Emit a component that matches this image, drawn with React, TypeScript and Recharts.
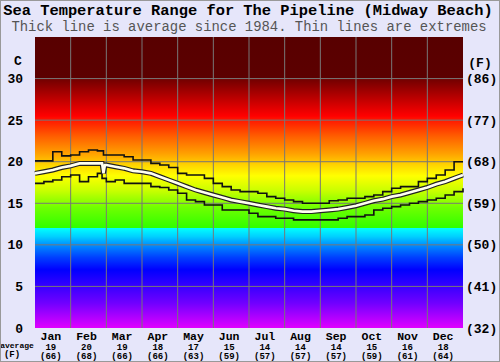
import { LineChart, Line, XAxis, YAxis, ReferenceArea, ReferenceLine } from 'recharts'

const months = ['Jan', 'Feb', 'Mar', 'Apr', 'May', 'Jun', 'Jul', 'Aug', 'Sep', 'Oct', 'Nov', 'Dec']
const monthAvgC = [19, 20, 19, 18, 17, 15, 14, 14, 14, 15, 16, 18]
const monthAvgF = [66, 68, 66, 66, 63, 59, 57, 57, 57, 59, 61, 64]
const monthCenters = [0.5, 1.5, 2.5, 3.5, 4.5, 5.5, 6.5, 7.5, 8.5, 9.5, 10.5, 11.5]
const monthBounds = [1, 2, 3, 4, 5, 6, 7, 8, 9, 10, 11]
const celsiusTicks = [0, 5, 10, 15, 20, 25, 30]
const fahrenheitTicks = [32, 41, 50, 59, 68, 77, 86]

// position in months from 1 Jan
const yearPos = [
  0, 0.25, 0.5, 0.75, 1, 1.25, 1.5, 1.75, 1.88, 1.92, 1.96,
  2, 2.25, 2.5, 2.75, 3, 3.25, 3.5, 3.75, 4, 4.25, 4.5, 4.75, 5, 5.25, 5.5, 5.75, 6,
  6.25, 6.5, 6.75, 7, 7.25, 7.5, 7.75, 8, 8.25, 8.5, 8.75, 9, 9.25, 9.5, 9.75, 10,
  10.25, 10.5, 10.75, 11, 11.25, 11.5, 11.75, 12,
]
const maxTemp = [
  20.1, 20.1, 21.2, 20.7, 20.8, 21.2, 21.4, 21.3, 21.3, 20.8, 20.8,
  20.8, 20.8, 20.6, 20.2, 20.2, 19.8, 19.6, 19.3, 18.6, 18.4, 18.4, 18.0, 17.4, 17.0, 16.6, 16.4, 16.4,
  16.2, 15.8, 15.6, 15.4, 15.2, 15.0, 15.0, 15.0, 15.3, 15.4, 15.6, 15.6, 15.8, 16.0, 16.4, 16.8,
  17.0, 17.0, 17.6, 18.0, 18.4, 19.0, 20.0, 20.0,
]
const avgTemp = [
  18.6, 18.8, 19.0, 19.3, 19.5, 19.8, 19.8, 19.8, 19.8, 18.6, 19.6,
  19.6, 19.4, 19.2, 18.9, 18.8, 18.6, 18.2, 17.8, 17.4, 17.0, 16.6, 16.3, 16.0, 15.7, 15.4, 15.2, 15.0,
  14.8, 14.6, 14.4, 14.3, 14.1, 14.0, 14.0, 14.1, 14.2, 14.3, 14.5, 14.7, 15.0, 15.3, 15.5, 15.8,
  16.0, 16.3, 16.6, 16.9, 17.3, 17.6, 18.0, 18.4,
]
const minTemp = [
  17.4, 17.6, 17.8, 18.2, 18.4, 17.6, 18.2, 18.6, 18.0, 18.0, 18.0,
  17.6, 17.8, 17.4, 17.4, 17.4, 17.0, 16.9, 16.6, 16.2, 15.4, 15.2, 14.8, 14.8, 14.2, 14.2, 14.2, 13.8,
  13.4, 13.4, 13.2, 13.2, 13.0, 13.0, 13.0, 13.0, 13.0, 13.2, 13.4, 13.4, 13.6, 14.2, 14.4, 14.6,
  14.8, 15.0, 15.2, 15.4, 15.6, 16.0, 16.4, 16.8,
]

// colour scale of the background, by temperature (C)
const bandTemps = [35, 30.05, 30, 27, 25.5, 25, 23, 21, 19.5, 18.3, 16.5, 14.5, 12.05, 12, 11, 10, 8.5, 7, 5, 3, 0]
const bandColors = [
  '#580000', '#5c0000', '#700000', '#d00000', '#ff0000', '#ff1800', '#ff6000', '#ffa000', '#ffd800',
  '#ffff00', '#c8ff00', '#70ff00', '#30ff00', '#00ffff', '#00d0ff', '#0090ff', '#0040ff', '#0000ff',
  '#3800ff', '#7000ff', '#e000ff',
]

const data = yearPos.map((m, i) => ({
  m,
  max: maxTemp[i],
  avg: avgTemp[i],
  min: minTemp[i],
  avgF: avgTemp[i] * 9 / 5 + 32,
}))

const FONT = '"Liberation Mono", "Courier New", monospace'
const TOP_C = 35
const TOP_F = TOP_C * 9 / 5 + 32

function MonthTick({ x, y, payload }: any) {
  const i = Math.floor(payload.value)
  return (
    <g transform={`translate(${x - 2},${y})`} fontFamily={FONT} fontWeight="bold" fill="#000">
      <text y={10} textAnchor="middle" fontSize={11.5}>{months[i]}</text>
      <text y={19.5} textAnchor="middle" fontSize={9}>{monthAvgC[i]}</text>
      <text y={29} textAnchor="middle" fontSize={9}>({monthAvgF[i]})</text>
    </g>
  )
}

function CTick({ x, y, payload }: any) {
  return (
    <text x={x} y={y} dy={4.5} textAnchor="end" fontFamily={FONT} fontWeight="bold" fontSize={13} fill="#000">
      {payload.value}
    </text>
  )
}

function FTick({ x, y, payload }: any) {
  return (
    <text x={x} y={y} dy={4.5} textAnchor="start" fontFamily={FONT} fontWeight="bold" fontSize={13} fill="#000">
      ({payload.value})
    </text>
  )
}

export default function App() {
  return (
    <div
      style={{
        position: 'absolute', left: 0, top: 0, width: 500, height: 362,
        background: '#e6e6fa', boxSizing: 'border-box', border: '1px solid #999', overflow: 'hidden',
      }}
    >
      <div style={{ position: 'absolute', left: -1, top: -1 }}>
        <LineChart width={500} height={362} data={data} margin={{ top: 37, right: 0, bottom: 0, left: 0 }}>
          <defs>
            <linearGradient id="tempBands" x1="0" y1="0" x2="0" y2="1">
              {bandTemps.map((t, i) => (
                <stop key={i} offset={(TOP_C - t) / TOP_C} stopColor={bandColors[i]} />
              ))}
            </linearGradient>
          </defs>
          <XAxis
            dataKey="m"
            type="number"
            domain={[0, 12]}
            ticks={monthCenters}
            height={34}
            axisLine={false}
            tickLine={false}
            tickSize={0}
            tick={<MonthTick />}
            interval={0}
          />
          <YAxis
            yAxisId="c"
            domain={[0, TOP_C]}
            ticks={celsiusTicks}
            width={35}
            axisLine={false}
            tickLine={false}
            tickSize={0}
            tickMargin={12}
            tick={<CTick />}
            interval={0}
          />
          <YAxis
            yAxisId="f"
            orientation="right"
            type="number"
            domain={[32, TOP_F]}
            allowDataOverflow
            ticks={fahrenheitTicks}
            width={37}
            axisLine={false}
            tickLine={false}
            tickSize={0}
            tickMargin={3}
            tick={<FTick />}
            interval={0}
          />
          <ReferenceArea yAxisId="c" x1={0} x2={12} y1={0} y2={TOP_C} fill="url(#tempBands)" fillOpacity={1} stroke="none" />
          {monthBounds.map(b => (
            <ReferenceLine key={`v${b}`} yAxisId="c" x={b} stroke="#777" strokeWidth={1} />
          ))}
          {celsiusTicks.slice(1).map(t => (
            <ReferenceLine key={`h${t}`} yAxisId="c" y={t} stroke="#777" strokeWidth={1} />
          ))}
          <Line yAxisId="f" type="linear" dataKey="avgF" stroke="none" dot={false} activeDot={false} isAnimationActive={false} />
          <Line yAxisId="c" type="stepAfter" dataKey="max" stroke="#111" strokeWidth={1.6} dot={false} isAnimationActive={false} />
          <Line yAxisId="c" type="stepAfter" dataKey="min" stroke="#111" strokeWidth={1.6} dot={false} isAnimationActive={false} />
          <Line yAxisId="c" type="linear" dataKey="avg" stroke="#222" strokeWidth={5} dot={false} isAnimationActive={false} />
          <Line yAxisId="c" type="linear" dataKey="avg" stroke="#fffff0" strokeWidth={2.6} dot={false} isAnimationActive={false} />
        </LineChart>
        <svg width={500} height={362} style={{ position: 'absolute', left: 0, top: 0, pointerEvents: 'none' }}>
          <g fontFamily={FONT}>
            <text x={248} y={14.5} textAnchor="middle" fontSize={15.4} fontWeight="bold" fill="#000">
              Sea Temperature Range for The Pipeline (Midway Beach)
            </text>
            <text x={249} y={30.5} textAnchor="middle" fontSize={13.9} fill="#555">
              Thick line is average since 1984. Thin lines are extremes
            </text>
            <text x={18} y={65} textAnchor="middle" fontSize={13} fontWeight="bold" fill="#000">C</text>
            <text x={480} y={67} textAnchor="middle" fontSize={13} fontWeight="bold" fill="#000">(F)</text>
            <text x={17} y={347.5} textAnchor="middle" fontSize={8} fontWeight="bold" fill="#000">average</text>
            <text x={12} y={357} textAnchor="middle" fontSize={9} fontWeight="bold" fill="#000">(F)</text>
          </g>
        </svg>
      </div>
    </div>
  )
}
